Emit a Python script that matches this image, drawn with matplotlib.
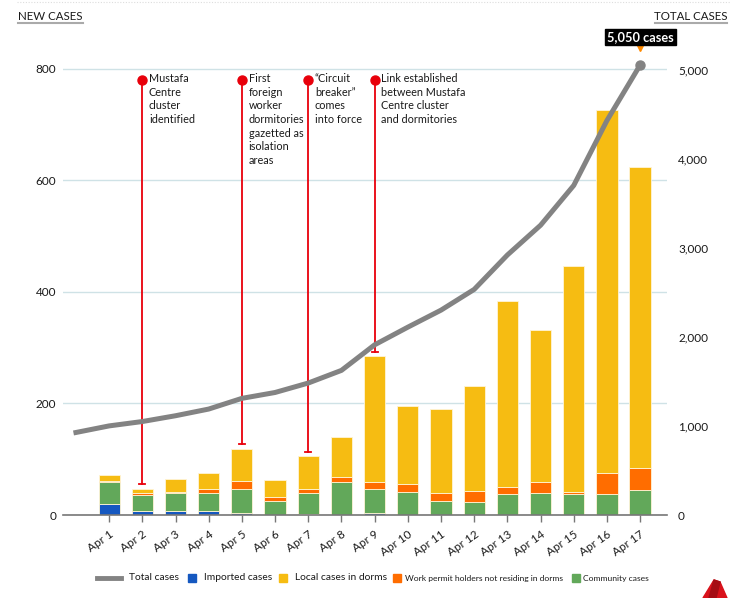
import numpy as np
import matplotlib
matplotlib.use("Agg")
from matplotlib import pyplot as plt
from matplotlib.patches import Rectangle, Polygon

plt.rcParams["font.family"] = ["Lato", "DejaVu Sans"]

days = ["Apr 1", "Apr 2", "Apr 3", "Apr 4", "Apr 5", "Apr 6", "Apr 7", "Apr 8", "Apr 9",
        "Apr 10", "Apr 11", "Apr 12", "Apr 13", "Apr 14", "Apr 15", "Apr 16", "Apr 17"]
imported = [20, 7, 8, 7, 4, 0, 2, 0, 4, 0, 0, 0, 0, 0, 0, 0, 0]
community = [39, 28, 32, 33, 43, 25, 38, 60, 43, 42, 26, 24, 37, 39, 37, 38, 44]
work_permit = [2, 5, 2, 7, 14, 7, 7, 9, 12, 13, 14, 19, 14, 20, 4, 37, 40]
dorms = [11, 7, 22, 28, 58, 31, 58, 71, 226, 140, 151, 188, 333, 273, 406, 651, 540]

# total cases line starts one day earlier (Mar 31)
total_cases = [926, 1000, 1049, 1114, 1189, 1309, 1375, 1481, 1623, 1910,
               2108, 2299, 2532, 2918, 3252, 3699, 4427, 5050]

events = [
    (1, "Mustafa\nCentre\ncluster\nidentified"),
    (4, "First\nforeign\nworker\ndormitories\ngazetted as\nisolation\nareas"),
    (6, "\u201cCircuit\nbreaker\u201d\ncomes\ninto force"),
    (8, "Link established\nbetween Mustafa\nCentre cluster\nand dormitories"),
]

c_blue = "#1558c0"
c_green = "#62a85a"
c_orange = "#ff6d00"
c_yellow = "#f6bc12"
c_line = "#838383"
c_red = "#e8000b"
c_grid = "#cfe2e6"

W, H = 747, 598
fig = plt.figure(figsize=(W / 100, H / 100), dpi=100)
ax = fig.add_axes([63 / W, (H - 515) / H, (667 - 63) / W, (515 - 40) / H])
ax2 = ax.twinx()

x = np.arange(len(days))
imported = np.array(imported)
community = np.array(community)
work_permit = np.array(work_permit)
dorms = np.array(dorms)

bw = 0.64
edge = dict(edgecolor="#fff4d6", linewidth=0.6)
ax.bar(x, imported, bw, color=c_blue, **edge, zorder=3)
b1 = imported
ax.bar(x, community, bw, bottom=b1, color=c_green, **edge, zorder=3)
b2 = b1 + community
ax.bar(x, work_permit, bw, bottom=b2, color=c_orange, **edge, zorder=3)
b3 = b2 + work_permit
ax.bar(x, dorms, bw, bottom=b3, color=c_yellow, **edge, zorder=3)
tops = b3 + dorms

ax.set_xlim(-1.39, 16.81)
ax.set_ylim(0, 852)
ax.set_yticks([0, 200, 400, 600, 800])
ax.grid(axis="y", color=c_grid, linewidth=1.0, zorder=0)
ax.set_axisbelow(True)
for s in ["top", "left", "right"]:
    ax.spines[s].set_visible(False)
ax.spines["bottom"].set_color("#777777")
ax.spines["bottom"].set_linewidth(1.2)
ax.spines["bottom"].set_zorder(4)
ax.tick_params(axis="y", length=0, pad=5, labelsize=8.5, labelcolor="#1a1a1a")
ax.tick_params(axis="x", length=5, width=1, color="#777777", pad=5)
ax.set_xticks(x)
ax.set_xticklabels(days, rotation=35, ha="right", rotation_mode="anchor",
                   fontsize=8.4, color="#1a1a1a")

# event annotations
marker_y = 781
for i, label in events:
    end_y = tops[i] + 8
    ax.plot([i, i], [end_y, marker_y], color=c_red, lw=1.3, zorder=5)
    ax.plot([i - 0.09, i + 0.09], [end_y, end_y], color=c_red, lw=1.3, zorder=5)
    ax.plot(i, marker_y, "o", color=c_red, ms=6.5, zorder=6)
    ax.text(i + 0.2, marker_y + 12, label, ha="left", va="top", fontsize=7.8,
            linespacing=1.3, color="#1a1a1a", zorder=6)

# total cases line on right axis scale
ax2.set_ylim(0, 5331)
line_x = np.arange(-1, len(days))
ax2.set_yticks([0, 1000, 2000, 3000, 4000, 5000])
ax2.set_yticklabels(["0", "1,000", "2,000", "3,000", "4,000", "5,000"])
ax2.tick_params(axis="y", length=0, pad=8, labelsize=8.5, labelcolor="#1a1a1a")
for s in ax2.spines.values():
    s.set_visible(False)
ax.set_zorder(ax2.get_zorder() + 1)
ax.patch.set_visible(False)
ax.plot(line_x, total_cases, color=c_line, lw=3.6, zorder=7,
        transform=ax2.transData)
ax.plot(line_x[-1], total_cases[-1], "o", color=c_line, ms=6.5, zorder=8,
        transform=ax2.transData)
ax.plot(line_x[-1], total_cases[-1] + 190, "v", color="#ff8a00", ms=5, zorder=8,
        transform=ax2.transData)

def fx(px):
    return px / W

def fy(py):
    return 1 - py / H

# end label
fig.text(fx(640.5), fy(37), "5,050 cases", ha="center", va="center",
         fontsize=9.2, fontweight="bold", color="white",
         bbox=dict(boxstyle="square,pad=0.18", fc="black", ec="black"))

# headers
fig.text(fx(18), fy(16), "NEW CASES", ha="left", va="center", fontsize=8.3, color="#1a1a1a")
fig.text(fx(727), fy(16), "TOTAL CASES", ha="right", va="center", fontsize=8.3, color="#1a1a1a")
fig.add_artist(plt.Line2D([fx(18), fx(83)], [fy(23), fy(23)], color="#aaaaaa", lw=1.5))
fig.add_artist(plt.Line2D([fx(655), fx(727)], [fy(23), fy(23)], color="#aaaaaa", lw=1.5))
fig.add_artist(plt.Line2D([fx(17), fx(730)], [fy(2), fy(2)], color="#dddddd", lw=0.8,
                          linestyle=(0, (1, 1.5))))

# legend
ly = 578
fig.add_artist(plt.Line2D([fx(97), fx(121)], [fy(ly), fy(ly)], color=c_line, lw=3.5))
fig.text(fx(129), fy(ly), "Total cases", ha="left", va="center", fontsize=7.4, color="#1a1a1a")
items = [
    (188, c_blue, 204, "Imported cases", 7.4),
    (279, c_yellow, 295, "Local cases in dorms", 7.4),
    (393, c_orange, 405, "Work permit holders not residing in dorms", 6.1),
    (572, c_green, 583, "Community cases", 6.1),
]
for sx, col, tx, txt, fs in items:
    fig.add_artist(Rectangle((fx(sx), fy(ly + 4)), 8 / W, 8 / H, color=col,
                             transform=fig.transFigure))
    fig.text(fx(tx), fy(ly), txt, ha="left", va="center", fontsize=fs, color="#1a1a1a")

# small logo
fig.add_artist(Polygon([(fx(703), fy(598)), (fx(714), fy(580)), (fx(720), fy(582)),
                        (fx(727), fy(598))], closed=True, color="#d9121b",
                       transform=fig.transFigure))
fig.add_artist(Polygon([(fx(714), fy(580)), (fx(720), fy(582)), (fx(716), fy(598)),
                        (fx(709), fy(598))], closed=True, color="#a50d14",
                       transform=fig.transFigure))

fig.savefig("out.png", dpi=100)
